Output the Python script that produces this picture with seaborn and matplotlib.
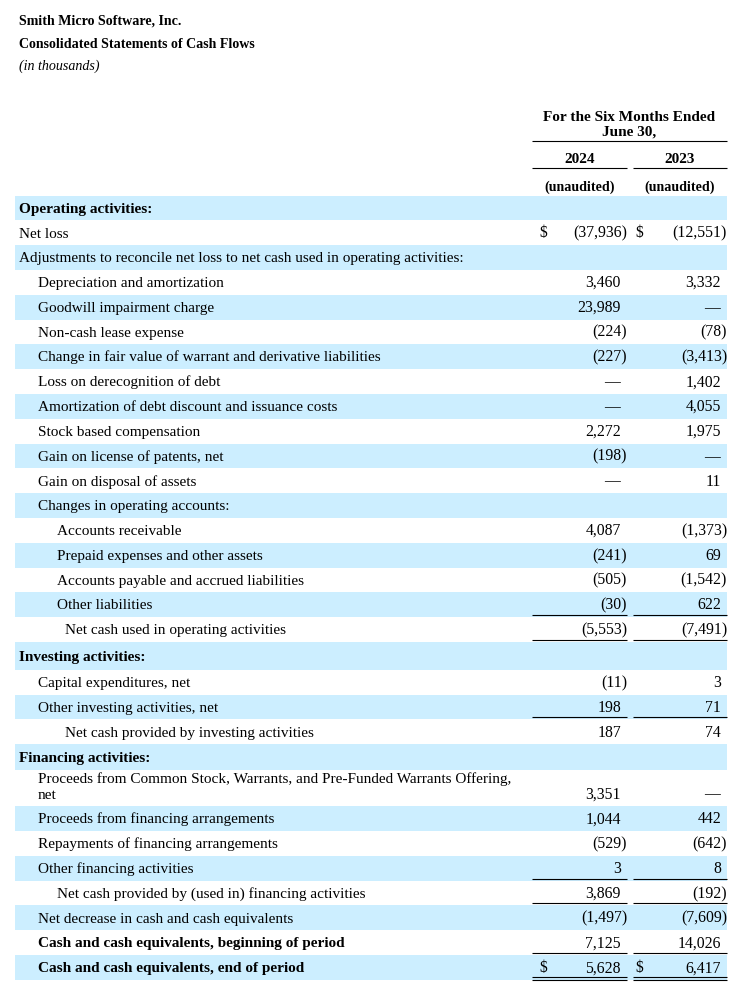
import matplotlib
matplotlib.use("Agg")
import matplotlib.pyplot as plt
import seaborn as sns

# ---------------- data ----------------
company = "Smith Micro Software, Inc."
statement = "Consolidated Statements of Cash Flows"
units = "(in thousands)"
period_header = ["For the Six Months Ended", "June 30,"]
years = ["2024", "2023"]
audit_status = ["(unaudited)", "(unaudited)"]

labels = [
    "Operating activities:",
    "Net loss",
    "Adjustments to reconcile net loss to net cash used in operating activities:",
    "Depreciation and amortization",
    "Goodwill impairment charge",
    "Non-cash lease expense",
    "Change in fair value of warrant and derivative liabilities",
    "Loss on derecognition of debt",
    "Amortization of debt discount and issuance costs",
    "Stock based compensation",
    "Gain on license of patents, net",
    "Gain on disposal of assets",
    "Changes in operating accounts:",
    "Accounts receivable",
    "Prepaid expenses and other assets",
    "Accounts payable and accrued liabilities",
    "Other liabilities",
    "Net cash used in operating activities",
    "Investing activities:",
    "Capital expenditures, net",
    "Other investing activities, net",
    "Net cash provided by investing activities",
    "Financing activities:",
    "Proceeds from Common Stock, Warrants, and Pre-Funded Warrants Offering,\nnet",
    "Proceeds from financing arrangements",
    "Repayments of financing arrangements",
    "Other financing activities",
    "Net cash provided by (used in) financing activities",
    "Net decrease in cash and cash equivalents",
    "Cash and cash equivalents, beginning of period",
    "Cash and cash equivalents, end of period",
]
values_2024 = [None, -37936, None, 3460, 23989, -224, -227, 0, 0, 2272, -198, 0,
               None, 4087, -241, -505, -30, -5553, None, -11, 198, 187, None,
               3351, 1044, -529, 3, 3869, -1497, 7125, 5628]
values_2023 = [None, -12551, None, 3332, 0, -78, -3413, 1402, 4055, 1975, 0, 11,
               None, -1373, 69, -1542, 622, -7491, None, 3, 71, 74, None,
               0, 442, -642, 8, -192, -7609, 14026, 6417]
indent_level = [0, 0, 0, 1, 1, 1, 1, 1, 1, 1, 1, 1, 1, 2, 2, 2, 2, 3, 0, 1, 1, 3,
                0, 1, 1, 1, 1, 2, 1, 1, 1]
bold_rows = [0, 18, 22, 29, 30]
dollar_rows = [1, 30]
single_rule_rows = [16, 17, 20, 26, 27, 29]
double_rule_rows = [30]

# ---------------- layout / style ----------------
W, H, DPI = 740, 991, 100
FONT = "Liberation Serif"
FS_TITLE = 10.1
FS = 11.0
FS_NUM = 11.3
SHADE = "#CCEEFF"
indent_px = {0: 19, 1: 38, 2: 57, 3: 65}
row_h = [24.8] * len(labels)
row_h[18] = 28
row_h[22] = 26
row_h[23] = 36
top0 = 195.5
col_num_right = [621, 721]     # right edge of digits
col_paren_right = [627, 727]   # right edge of closing parenthesis
col_dollar = [539, 635]
col_center = [580, 680]
col_span = [(532, 627), (633, 727)]
shade_x = (15, 727)

sns.set_theme(style="white")
plt.rcParams["font.family"] = [FONT, "DejaVu Serif"]

fig = plt.figure(figsize=(W / DPI, H / DPI), dpi=DPI)
ax = fig.add_axes([0, 0, 1, 1])
ax.set_xlim(0, W)
ax.set_ylim(H, 0)
ax.axis("off")

BASE = 4.8  # baseline offset from visual centre


def txt(x, y, s, **kw):
    kw.setdefault("fontsize", FS)
    kw.setdefault("color", "black")
    ax.text(x, y + BASE, s, va="baseline", **kw)


def fmt(v):
    if v is None:
        return None
    if v == 0:
        return "\u2014"
    if v < 0:
        return "({:,})".format(-v)
    return "{:,}".format(v)


# title block
txt(19, 20, company, fontweight="bold", fontsize=FS_TITLE)
txt(19, 43, statement, fontweight="bold", fontsize=FS_TITLE)
txt(19, 65, units, fontstyle="italic", fontsize=FS_TITLE)

# column header
txt(629, 116, period_header[0], fontweight="bold", ha="center")
txt(629, 131, period_header[1], fontweight="bold", ha="center")
ax.plot([532, 727], [141, 141], color="black", lw=0.8, solid_capstyle="butt")
for i in range(2):
    txt(col_center[i], 158, years[i], fontweight="bold", ha="center")
    ax.plot(col_span[i], [168, 168], color="black", lw=0.8, solid_capstyle="butt")
    txt(col_center[i], 186, audit_status[i], fontweight="bold", ha="center",
        fontsize=FS_TITLE)

# body rows
y = top0
for r, lab in enumerate(labels):
    h = row_h[r]
    top, bot = y, y + h
    if r % 2 == 0:
        ax.axhspan(top, bot, xmin=shade_x[0] / W, xmax=shade_x[1] / W,
                   color=SHADE, lw=0, zorder=0)
    weight = "bold" if r in bold_rows else "normal"
    lines = lab.split("\n")
    if len(lines) == 1:
        ys = [top + h / 2]
    else:
        ys = [top + 7.5, top + 23.5]
    for ln, yy in zip(lines, ys):
        txt(indent_px[indent_level[r]], yy, ln, fontweight=weight)
    vy = ys[-1]
    for i, vals in enumerate([values_2024, values_2023]):
        s = fmt(vals[r])
        if s is None:
            continue
        if s.startswith("("):
            txt(col_paren_right[i], vy, s, ha="right", fontsize=FS_NUM)
        elif s == "\u2014":
            txt(col_num_right[i] - 1, vy, s, ha="right", fontsize=FS_NUM)
        else:
            txt(col_num_right[i], vy, s, ha="right", fontsize=FS_NUM)
        if r in dollar_rows:
            txt(col_dollar[i], vy, "$", ha="left", fontsize=FS_NUM)
    if r in single_rule_rows:
        for i in range(2):
            ax.plot(col_span[i], [bot - 2, bot - 2], color="black", lw=0.8,
                    solid_capstyle="butt")
    if r in double_rule_rows:
        for i in range(2):
            for dy in (-2.5, 0):
                ax.plot(col_span[i], [bot + dy, bot + dy], color="black", lw=0.8,
                        solid_capstyle="butt")
    y = bot

fig.savefig("out.png", dpi=DPI)
